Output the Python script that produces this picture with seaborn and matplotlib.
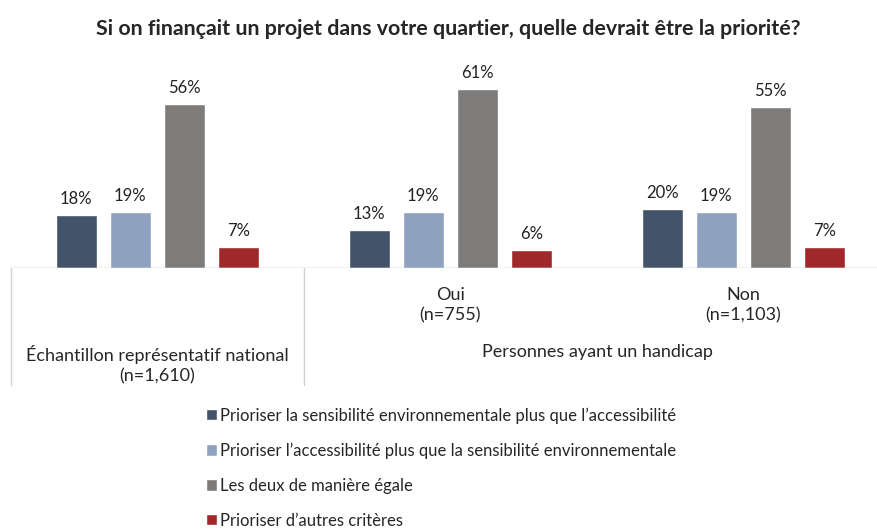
import pandas as pd
import matplotlib.pyplot as plt
import matplotlib.transforms as mtransforms
import seaborn as sns

# Données
groupes = ['Échantillon', 'Oui', 'Non']
reponses = [
    'Prioriser la sensibilité environnementale plus que l’accessibilité',
    'Prioriser l’accessibilité plus que la sensibilité environnementale',
    'Les deux de manière égale',
    'Prioriser d’autres critères',
]
env_plus = [18, 13, 20]
access_plus = [19, 19, 19]
egale = [56, 61, 55]
autres = [7, 6, 7]
couleurs = ['#435369', '#8EA2C0', '#7E7B7B', '#A0282A']

valeurs = [env_plus, access_plus, egale, autres]
rows = []
for rep, vals in zip(reponses, valeurs):
    for g, v in zip(groupes, vals):
        rows.append({'Groupe': g, 'Reponse': rep, 'Pourcentage': v})
data = pd.DataFrame(rows)

sns.set_theme(style='white')
plt.rcParams['font.family'] = ['Lato', 'DejaVu Sans']

fig = plt.figure(figsize=(8.78, 5.29), dpi=100)
ax = fig.add_axes([0.0125, 0.4934, 0.9875, 0.3932])

sns.barplot(data=data, x='Groupe', y='Pourcentage', hue='Reponse',
            hue_order=reponses, order=groupes, palette=couleurs,
            width=0.74, gap=0.24, saturation=1, legend=True, ax=ax)

for cont in ax.containers:
    ax.bar_label(cont, fmt='%d%%', padding=6, fontsize=12, color='#222222')

ax.set_ylim(0, 71)
ax.set_xlim(-0.5, 2.459)
ax.set_xticks([])
ax.set_yticks([])
ax.set_xlabel('')
ax.set_ylabel('')
for s in ax.spines.values():
    s.set_visible(False)
ax.axhline(0, color='#BFBFBF', lw=1)

# Cadre des catégories sous l'axe
trans = mtransforms.blended_transform_factory(ax.transData, fig.transFigure)
for xv in [-0.5, 0.5]:
    ax.plot([xv, xv], [1 - 268 / 529, 1 - 385 / 529], color='#D0D0D0', lw=1,
            transform=trans, clip_on=False)

ax.text(1, 1 - 305 / 529, 'Oui\n(n=755)', transform=trans, ha='center',
        va='center', fontsize=13, linespacing=1.3)
ax.text(2, 1 - 305 / 529, 'Non\n(n=1,103)', transform=trans, ha='center',
        va='center', fontsize=13, linespacing=1.3)
ax.text(0, 1 - 365 / 529, 'Échantillon représentatif national\n(n=1,610)',
        transform=trans, ha='center', va='center', fontsize=13, linespacing=1.3)
ax.text(1.5, 1 - 352 / 529, 'Personnes ayant un handicap', transform=trans,
        ha='center', va='center', fontsize=13)

fig.suptitle('Si on finançait un projet dans votre quartier, quelle devrait être la priorité?',
             x=0.511, y=0.965, fontsize=15.4, fontweight='bold')

handles, labels = ax.get_legend_handles_labels()
ax.legend_.remove()
fig.legend(handles, labels, loc='upper left', bbox_to_anchor=(0.2346, 0.230),
           frameon=False, fontsize=12, handlelength=0.66, handleheight=0.66,
           handletextpad=0.2, labelspacing=1.13, borderpad=0, borderaxespad=0)

fig.savefig('out.png', dpi=100)
